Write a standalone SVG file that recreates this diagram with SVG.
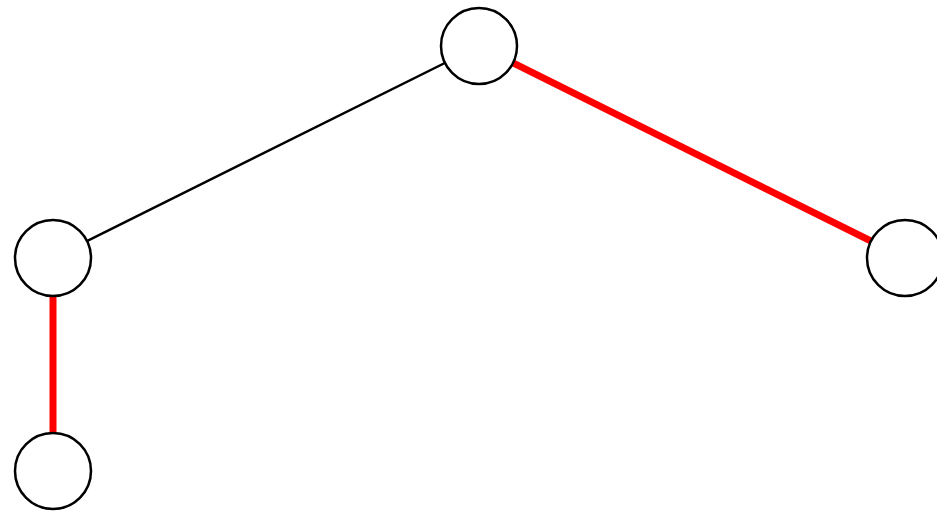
<svg xmlns="http://www.w3.org/2000/svg" width="937" height="515" viewBox="0 0 937 515">
<style>
.node{fill:#fff;stroke:#000;stroke-width:2.5}
.e{stroke:#000;stroke-width:2.5;fill:none}
.hl{stroke:#ff0000;stroke-width:7;fill:none}
</style>
<rect width="937" height="515" fill="#fff"/>
<g id="edges">
<line class="e" x1="479" y1="46" x2="53" y2="258"/>
<line class="hl" x1="479" y1="46" x2="905" y2="258"/>
<line class="hl" x1="53" y1="258" x2="53" y2="471"/>
</g>
<g id="n0"><circle class="node" cx="479" cy="46" r="38"/></g>
<g id="n1"><circle class="node" cx="53" cy="258" r="38"/></g>
<g id="n2"><circle class="node" cx="905" cy="258" r="38"/></g>
<g id="n3"><circle class="node" cx="53" cy="471" r="38"/></g>
</svg>
